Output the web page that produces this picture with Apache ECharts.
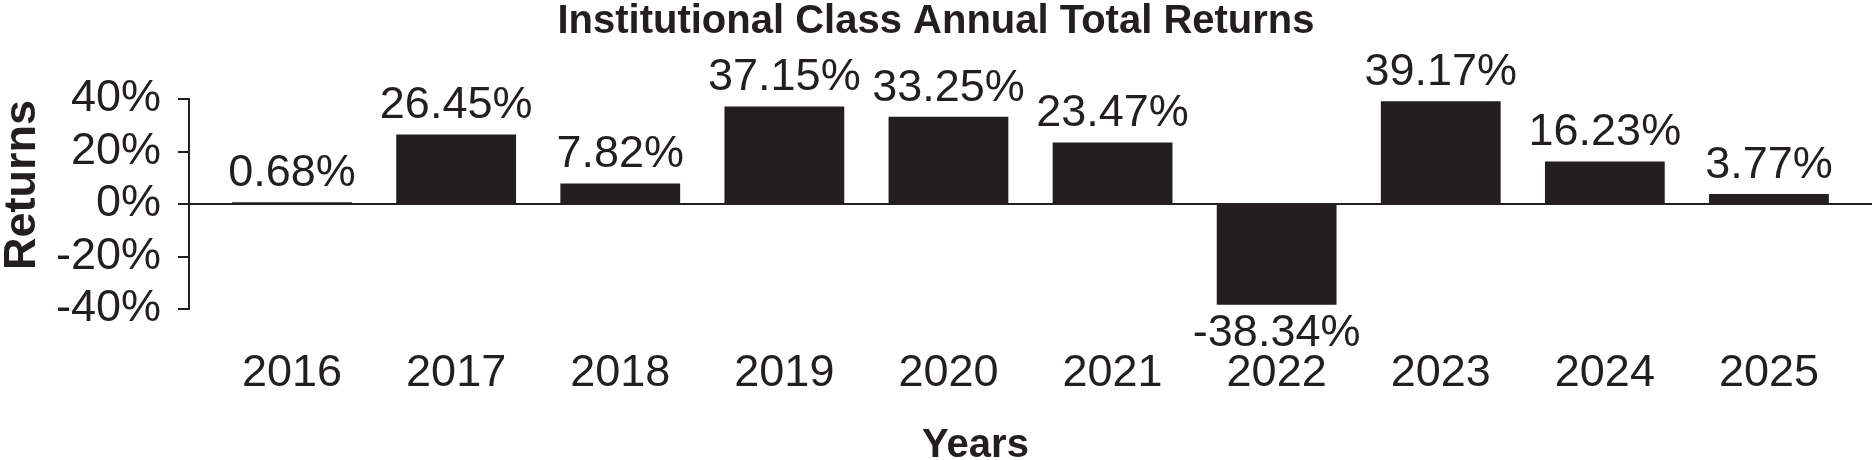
<!DOCTYPE html>
<html lang="en">

<head>
    <meta charset="UTF-8">
    <title>Institutional Class Annual Total Returns</title>
    <script src="https://cdn.jsdelivr.net/npm/echarts@6.0.0/dist/echarts.min.js"></script>
    <style>
        body {
            margin: 0;
            padding: 0;
            background: #fff;
        }

        #main {
            width: 1872px;
            height: 460px;
        }
    </style>
</head>

<body>
    <div id="main"></div>

    <script>
        // data
        var years = ['2016', '2017', '2018', '2019', '2020', '2021', '2022', '2023', '2024', '2025'];
        var returns = [0.68, 26.45, 7.82, 37.15, 33.25, 23.47, -38.34, 39.17, 16.23, 3.77];
        var yTicks = [-40, -20, 0, 20, 40];

        var ink = '#231f20';
        var font = "'Liberation Sans', Arial, sans-serif";

        var chartDom = document.getElementById('main');
        var myChart = echarts.init(chartDom);
        var option;

        option = {
            animation: false,
            title: {
                text: 'Institutional Class Annual Total Returns',
                left: 'center',
                top: -3,
                textStyle: {
                    fontFamily: font,
                    fontSize: 40,
                    fontWeight: 'bold',
                    color: ink
                }
            },
            grid: [
                // bars
                { left: 210, right: 21, top: 99, bottom: 151, outerBoundsMode: 'none' },
                // y axis and zero line
                { left: 189, right: 0, top: 99, bottom: 151, outerBoundsMode: 'none' }
            ],
            xAxis: [
                {
                    gridIndex: 0,
                    type: 'category',
                    data: years,
                    axisLine: { show: false, onZero: false },
                    axisTick: { show: false },
                    axisLabel: {
                        margin: 42,
                        fontFamily: font,
                        fontSize: 45,
                        color: ink
                    },
                    name: 'Years',
                    nameLocation: 'middle',
                    nameGap: 117,
                    nameTextStyle: {
                        fontFamily: font,
                        fontSize: 40,
                        fontWeight: 'bold',
                        color: ink,
                        padding: [0, 110, 0, 0]
                    }
                },
                {
                    gridIndex: 1,
                    type: 'value',
                    min: 0,
                    max: 1,
                    axisLine: { show: true, onZero: true, lineStyle: { color: ink, width: 2 } },
                    axisTick: { show: false },
                    axisLabel: { show: false },
                    splitLine: { show: false }
                }
            ],
            yAxis: [
                {
                    gridIndex: 0,
                    type: 'value',
                    min: yTicks[0],
                    max: yTicks[yTicks.length - 1],
                    interval: 20,
                    show: false
                },
                {
                    gridIndex: 1,
                    type: 'value',
                    min: yTicks[0],
                    max: yTicks[yTicks.length - 1],
                    interval: 20,
                    axisLine: { show: true, lineStyle: { color: ink, width: 2 } },
                    axisTick: { show: true, length: 11, lineStyle: { color: ink, width: 2 } },
                    splitLine: { show: false },
                    axisLabel: {
                        margin: 28,
                        fontFamily: font,
                        fontSize: 45,
                        color: ink,
                        padding: [0, 0, 12, 0],
                        formatter: '{value}%'
                    },
                    name: 'Returns',
                    nameLocation: 'middle',
                    nameGap: 142,
                    nameTextStyle: {
                        fontFamily: font,
                        fontSize: 45,
                        fontWeight: 'bold',
                        color: ink,
                        padding: [0, 0, 0, 38]
                    }
                }
            ],
            series: [
                {
                    type: 'bar',
                    xAxisIndex: 0,
                    yAxisIndex: 0,
                    barCategoryGap: '27%',
                    itemStyle: { color: ink },
                    data: returns.map(function (v) {
                        return {
                            value: v,
                            label: { position: v < 0 ? 'bottom' : 'top' }
                        };
                    }),
                    label: {
                        show: true,
                        distance: 6,
                        fontFamily: font,
                        fontSize: 45,
                        color: ink,
                        formatter: function (p) {
                            return p.value.toFixed(2) + '%';
                        }
                    }
                }
            ]
        };

        option && myChart.setOption(option);
    </script>
</body>

</html>
